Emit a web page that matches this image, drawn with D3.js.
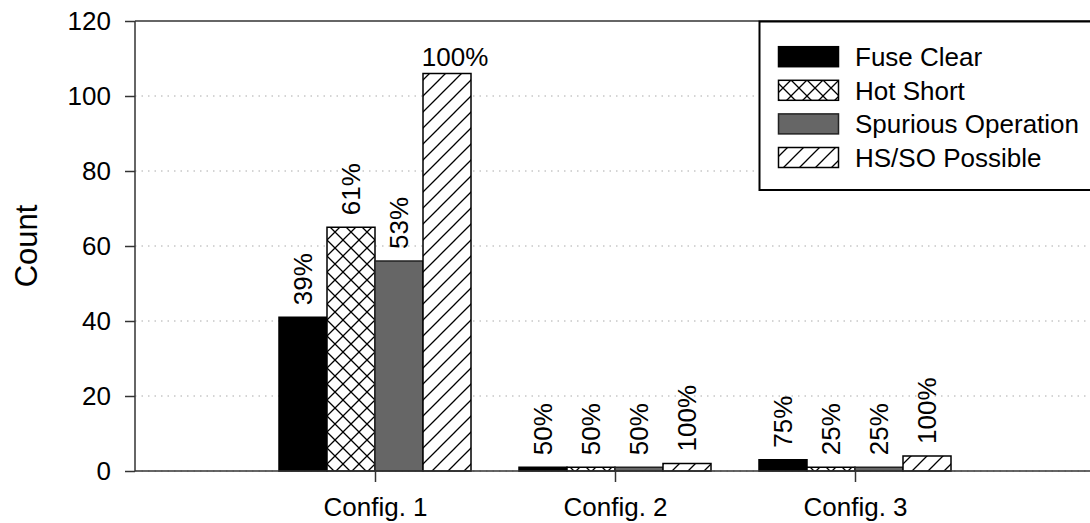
<!DOCTYPE html>
<html><head><meta charset="utf-8">
<script src="https://cdn.jsdelivr.net/npm/d3@7"></script>
<style>body{margin:0;background:#fff;overflow:hidden} text{font-family:"Liberation Sans",Arial,sans-serif;fill:#000}</style>
</head><body><svg id="c" width="1090" height="523"></svg>
<script>
const categories = ["Config. 1", "Config. 2", "Config. 3"];
const seriesNames = ["Fuse Clear", "Hot Short", "Spurious Operation", "HS/SO Possible"];
const fuseClear = [41, 1, 3];
const hotShort = [65, 1, 1];
const spurious = [56, 1, 1];
const hsPossible = [106, 2, 4];
const fuseClearPct = ["39%", "50%", "75%"];
const hotShortPct = ["61%", "50%", "25%"];
const spuriousPct = ["53%", "50%", "25%"];
const hsPossiblePct = ["100%", "100%", "100%"];
const yTicks = [0, 20, 40, 60, 80, 100, 120];
const yLabel = "Count";

const seriesValues = [fuseClear, hotShort, spurious, hsPossible];
const seriesPct = [fuseClearPct, hotShortPct, spuriousPct, hsPossiblePct];
const fills = ["#000", "url(#cross)", "#666", "url(#hatch)"];

const svg = d3.select("#c");
const L = 135, T = 21, B = 471, R = 1095;
const x = d3.scaleLinear().domain([0, 4]).range([L, R]);
const y = d3.scaleLinear().domain([0, 120]).range([B, T]);
const barW = 0.2;
const fs = 26;

// patterns
const defs = svg.append("defs");
const P = 16;
const px = x(1 - 0.2) % P;
const cross = defs.append("pattern").attr("id", "cross").attr("patternUnits", "userSpaceOnUse")
  .attr("width", P).attr("height", P).attr("x", px).attr("y", 0);
cross.append("rect").attr("width", P).attr("height", P).attr("fill", "#fff");
cross.append("path").attr("d", `M0,0L${P},${P}M0,${P}L${P},0`).attr("stroke", "#000").attr("stroke-width", 1.3);
const hatch = defs.append("pattern").attr("id", "hatch").attr("patternUnits", "userSpaceOnUse")
  .attr("width", P).attr("height", P).attr("x", x(1 + 0.2) % P).attr("y", 0);
hatch.append("rect").attr("width", P).attr("height", P).attr("fill", "#fff");
hatch.append("path").attr("d", `M-4,4L4,-4M0,${P}L${P},0M${P-4},${P+4}L${P+4},${P-4}`).attr("stroke", "#000").attr("stroke-width", 1.3);

// gridlines
svg.append("g").selectAll("line").data(yTicks.filter(t => t < 120)).join("line")
  .attr("x1", L).attr("x2", R).attr("y1", d => y(d)).attr("y2", d => y(d))
  .attr("stroke", "#aaa").attr("stroke-width", 1).attr("stroke-dasharray", "1.5,5");

// bars
const offsets = [-0.4, -0.2, 0, 0.2];
seriesValues.forEach((vals, s) => {
  const g = svg.append("g");
  vals.forEach((v, i) => {
    const x0 = x(i + 1 + offsets[s]), x1 = x(i + 1 + offsets[s] + barW);
    g.append("rect").attr("x", x0).attr("y", y(v)).attr("width", x1 - x0).attr("height", y(0) - y(v))
      .attr("fill", fills[s]).attr("stroke", s === 2 ? "#222" : "#000").attr("stroke-width", 1.5);
    const cx = (x0 + x1) / 2;
    const label = seriesPct[s][i];
    const gap = 12;
    const estLen = label.length * 0.62 * fs;
    if (y(v) - gap - estLen > T + 10) {
      g.append("text").attr("transform", `translate(${cx},${y(v) - gap}) rotate(-90)`)
        .attr("dy", "0.36em").attr("font-size", fs).text(label);
    } else {
      g.append("text").attr("x", cx + 8).attr("y", y(v) - 8).attr("text-anchor", "middle")
        .attr("font-size", fs).text(label);
    }
  });
});

// frame
svg.append("line").attr("x1", L).attr("x2", R).attr("y1", T).attr("y2", T).attr("stroke", "#333").attr("stroke-width", 1.5);
svg.append("line").attr("x1", L).attr("x2", R).attr("y1", B).attr("y2", B).attr("stroke", "#333").attr("stroke-width", 1.5);
svg.append("line").attr("x1", L).attr("x2", L).attr("y1", T).attr("y2", B).attr("stroke", "#333").attr("stroke-width", 1.5);

// y axis
const ya = svg.append("g").attr("transform", `translate(${L},0)`)
  .call(d3.axisLeft(y).tickValues(yTicks).tickSize(10).tickPadding(14));
ya.select(".domain").remove();
ya.selectAll(".tick line").attr("stroke", "#333").attr("stroke-width", 1.5);
ya.selectAll(".tick text").attr("font-size", fs).attr("font-family", "Liberation Sans, Arial, sans-serif").attr("fill", "#000");

// x axis
const xa = svg.append("g").attr("transform", `translate(0,${B})`)
  .call(d3.axisBottom(x).tickValues([1, 2, 3]).tickFormat(d => categories[d - 1]).tickSize(11).tickPadding(16));
xa.select(".domain").remove();
xa.selectAll(".tick line").attr("stroke", "#333").attr("stroke-width", 1.5);
xa.selectAll(".tick text").attr("font-size", fs).attr("font-family", "Liberation Sans, Arial, sans-serif").attr("fill", "#000");

// y label
svg.append("text").attr("transform", `translate(37,${(T + B) / 2}) rotate(-90)`)
  .attr("text-anchor", "middle").attr("font-size", 31).text(yLabel);

// legend
const lg = svg.append("g");
lg.append("rect").attr("x", 759.5).attr("y", 21.5).attr("width", 360).attr("height", 168.5)
  .attr("fill", "#fff").attr("stroke", "#000").attr("stroke-width", 2);
seriesNames.forEach((name, s) => {
  const cy = 56.7 + s * 33.6;
  lg.append("rect").attr("x", 778.5).attr("y", cy - 10).attr("width", 60).attr("height", 20)
    .attr("fill", fills[s]).attr("stroke", s === 2 ? "#222" : "#000").attr("stroke-width", 1.5);
  lg.append("text").attr("x", 855).attr("y", cy + 9.5).attr("font-size", fs).text(name);
});
</script></body></html>
